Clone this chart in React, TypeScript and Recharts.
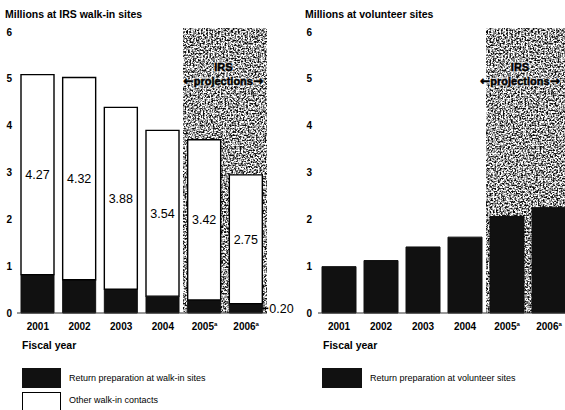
import React from "react";
import { BarChart, Bar, XAxis, YAxis, ReferenceArea, LabelList } from "recharts";

const categories = ["2001", "2002", "2003", "2004", "2005", "2006"];
const projected = [false, false, false, false, true, true];
const walkInPrep = [0.82, 0.71, 0.51, 0.36, 0.28, 0.2];
const otherWalkIn = [4.27, 4.32, 3.88, 3.54, 3.42, 2.75];
const walkInPrepLabeled = [false, false, false, false, false, true];
const volunteerPrep = [0.99, 1.12, 1.41, 1.62, 2.06, 2.25];
const yTicks = [0, 1, 2, 3, 4, 5, 6];
const projectionTop = 6.07;

const leftTitle = "Millions at IRS walk-in sites";
const rightTitle = "Millions at volunteer sites";
const xTitle = "Fiscal year";
const leftLegend = ["Return preparation at walk-in sites", "Other walk-in contacts"];
const rightLegend = ["Return preparation at volunteer sites"];
const projLine1 = "IRS";
const projWord = "projections";
const arrowLeft = "\u2190";
const arrowRight = "\u2192";

const walkInData = categories.map((c, i) => ({
  year: c,
  prep: walkInPrep[i],
  other: otherWalkIn[i],
}));
const volunteerData = categories.map((c, i) => ({ year: c, prep: volunteerPrep[i] }));

const FONT = "'Liberation Sans', Arial, Helvetica, sans-serif";
const ARROW_FONT = "'DejaVu Sans', sans-serif";
const BLACK = "#111";

const XTick = (props: any) => {
  const { x, y, payload } = props;
  const idx = categories.indexOf(payload.value);
  const proj = idx >= 0 && projected[idx];
  return (
    <text x={x} y={y} dy="0.71em" textAnchor="middle" fontSize={10} fontWeight="bold" fill="#000" fontFamily={FONT}>
      {payload.value}
      {proj && (
        <tspan fontSize={6} dy={-4}>
          a
        </tspan>
      )}
    </text>
  );
};

const ProjText = ({ cx, y, halo }: any) => {
  const common = {
    textAnchor: "middle" as const,
    fontSize: 11,
    fontWeight: "bold",
    fill: halo ? "none" : "#000",
    fontFamily: FONT,
    stroke: halo ? "rgba(255,255,255,0.55)" : "#000",
    strokeWidth: halo ? 3 : 0.5,
  } as any;
  return (
    <g>
      <text x={cx} y={y} {...common}>
        {projLine1}
      </text>
      <text x={cx} y={y + 14} {...common}>
        <tspan fontFamily={ARROW_FONT} fontSize={12}>{arrowLeft}</tspan>
        <tspan>{projWord}</tspan>
        <tspan fontFamily={ARROW_FONT} fontSize={12}>{arrowRight}</tspan>
      </text>
    </g>
  );
};

const ProjLabel = (props: any) => {
  const vb = props.viewBox || {};
  const cx = vb.x + vb.width / 2 + (props.shift || 0);
  return (
    <g>
      <ProjText cx={cx} y={vb.y + 42} halo />
      <ProjText cx={cx} y={vb.y + 42} />
    </g>
  );
};

const speckleShape = (props: any) => (
  <rect x={props.x} y={props.y} width={props.width} height={props.height} fill="#888" filter="url(#speckle)" />
);

const PrepLabel = (props: any) => {
  const { x, y, width, height, index, value } = props;
  if (!walkInPrepLabeled[index]) return null;
  const ry = y + height / 2;
  return (
    <g>
      <line x1={x + width} x2={x + width + 6} y1={ry} y2={ry} stroke="#000" strokeWidth={1.6} />
      <text x={x + width + 7} y={ry} dy="0.36em" fontSize={12.5} fill="#000" fontFamily={FONT}>
        {Number(value).toFixed(2)}
      </text>
    </g>
  );
};

const abs = (left: number, top: number, extra: any = {}) => ({ position: "absolute" as const, left, top, ...extra });

export default function App() {
  return (
    <div
      style={{
        position: "absolute",
        left: 0,
        top: 0,
        width: 565,
        height: 410,
        overflow: "hidden",
        background: "#fff",
        fontFamily: FONT,
        color: "#000",
      }}
    >
      <svg width={0} height={0} style={{ position: "absolute" }}>
        <defs>
          <filter id="speckle" x="0" y="0" width="100%" height="100%" colorInterpolationFilters="sRGB">
            <feTurbulence type="fractalNoise" baseFrequency="0.6" numOctaves={2} seed={11} result="noise" />
            <feColorMatrix
              in="noise"
              type="matrix"
              values="0 0 0 0 0.05  0 0 0 0 0.05  0 0 0 0 0.05  3.4 0 0 0 -1.3"
            />
          </filter>
        </defs>
      </svg>

      <div style={abs(5, 8, { fontSize: 10.5, fontWeight: "bold", lineHeight: "12px", whiteSpace: "nowrap" })}>{leftTitle}</div>
      <div style={abs(305, 8, { fontSize: 10.5, fontWeight: "bold", lineHeight: "12px", whiteSpace: "nowrap" })}>{rightTitle}</div>

      <div style={abs(0, 0)}>
        <BarChart width={300} height={340} data={walkInData} margin={{ top: 32, right: 33, bottom: 7, left: 0 }}>
          <ReferenceArea
            x1={categories[4]}
            x2={categories[5]}
            y1={0}
            y2={projectionTop}
            ifOverflow="visible"
            shape={speckleShape}
            label={<ProjLabel shift={-2} />}
          />
          <XAxis
            dataKey="year"
            height={20}
            tickLine={false}
            tickSize={0}
            tickMargin={10}
            axisLine={{ stroke: "#333", strokeWidth: 1 }}
            tick={<XTick />}
            interval={0}
          />
          <YAxis
            width={17}
            domain={[0, 6]}
            ticks={yTicks}
            tickLine={false}
            axisLine={false}
            tickSize={0}
            tickMargin={5}
            tick={{ fontSize: 10, fontWeight: "bold", fill: "#000", fontFamily: FONT }}
          />
          <Bar dataKey="prep" stackId="a" fill={BLACK} stroke={BLACK} strokeWidth={1} barSize={33} isAnimationActive={false}>
            <LabelList dataKey="prep" content={<PrepLabel />} />
          </Bar>
          <Bar dataKey="other" stackId="a" fill="#fff" stroke="#000" strokeWidth={1.4} barSize={33} isAnimationActive={false}>
            <LabelList dataKey="other" position="center" fontSize={12.5} fill="#000" fontFamily={FONT} formatter={(v: any) => Number(v).toFixed(2)} />
          </Bar>
        </BarChart>
      </div>

      <div style={abs(300, 0)}>
        <BarChart width={272} height={340} data={volunteerData} margin={{ top: 32, right: 2, bottom: 7, left: 0 }}>
          <ReferenceArea
            x1={categories[4]}
            x2={categories[5]}
            y1={0}
            y2={projectionTop}
            ifOverflow="visible"
            shape={speckleShape}
            label={<ProjLabel shift={-8} />}
          />
          <XAxis
            dataKey="year"
            height={20}
            tickLine={false}
            tickSize={0}
            tickMargin={10}
            axisLine={{ stroke: "#333", strokeWidth: 1 }}
            tick={<XTick />}
            interval={0}
          />
          <YAxis
            width={18}
            domain={[0, 6]}
            ticks={yTicks}
            tickLine={false}
            axisLine={false}
            tickSize={0}
            tickMargin={6}
            tick={{ fontSize: 10, fontWeight: "bold", fill: "#000", fontFamily: FONT }}
          />
          <Bar dataKey="prep" fill={BLACK} stroke={BLACK} strokeWidth={1} barSize={34} isAnimationActive={false} />
        </BarChart>
      </div>

      <div style={abs(22, 339, { fontSize: 10.5, fontWeight: "bold", lineHeight: "12px", whiteSpace: "nowrap" })}>{xTitle}</div>
      <div style={abs(323, 339, { fontSize: 10.5, fontWeight: "bold", lineHeight: "12px", whiteSpace: "nowrap" })}>{xTitle}</div>

      <div style={abs(22, 368, { width: 39, height: 20, background: BLACK })} />
      <div style={abs(69, 372, { fontSize: 9, lineHeight: "12px", whiteSpace: "nowrap" })}>{leftLegend[0]}</div>
      <div style={abs(22, 392, { width: 37, height: 20, background: "#fff", border: "1px solid #000" })} />
      <div style={abs(69, 394, { fontSize: 9, lineHeight: "12px", whiteSpace: "nowrap" })}>{leftLegend[1]}</div>

      <div style={abs(322, 368, { width: 40, height: 20, background: BLACK })} />
      <div style={abs(370, 372, { fontSize: 9, lineHeight: "12px", whiteSpace: "nowrap" })}>{rightLegend[0]}</div>
    </div>
  );
}
